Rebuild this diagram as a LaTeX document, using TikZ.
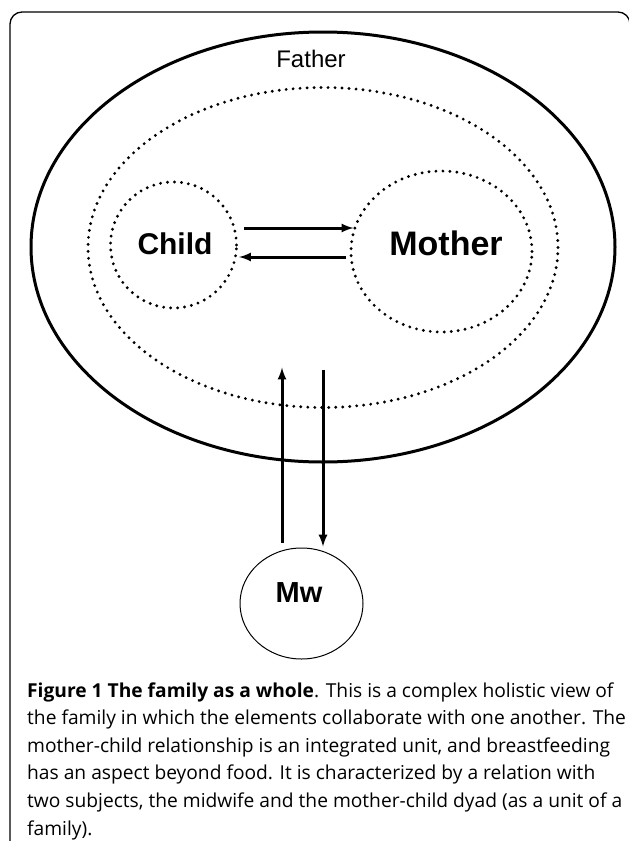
\documentclass[tikz,border=0pt]{standalone}
\usepackage{fontspec}
\setmainfont{Liberation Sans}
\newfontfamily\capfont{Open Sans}
\usetikzlibrary{shapes.geometric, arrows}
\tikzstyle{circleline} = [draw=black, line width=3pt]
\tikzstyle{dotline} = [draw=black, line width=3.2pt, line cap=round, dash pattern=on 0pt off 7pt]
\tikzstyle{person} = [font=\bfseries\fontsize{30}{34}\selectfont]
\tikzstyle{arrow} = [line width=3pt,->,>=latex]

\begin{document}
\begin{tikzpicture}[x=1pt, y=-1pt]
    \useasboundingbox (0,0) rectangle (629,841);
    \draw [line width=1.3pt, rounded corners=12pt] (10,860) -- (10,12) -- (630,12) -- (630,860);

    % the family, the dyad and its two members
    \node (family) [ellipse, circleline, minimum width=584, minimum height=430] at (323,247) {};
    \node (dyad) [ellipse, dotline, minimum width=470, minimum height=320] at (323,247.5) {};
    \node (child) [circle, dotline, minimum size=126] at (173.5,245) {};
    \node (mother) [ellipse, dotline, minimum width=181, minimum height=161] at (441.5,251.5) {};
    \node (mw) [ellipse, draw=black, line width=1pt, minimum width=123, minimum height=111] at (301.5,603.5) {};

    \node (fathertext) [font=\fontsize{24}{28}\selectfont] at (311,59) {Father};
    \node (childtext) [person] at ([shift={(1.5,-1)}]child.center) {Child};
    \node (mothertext) [person, font=\bfseries\fontsize{34}{38}\selectfont] at ([shift={(4.5,-8.5)}]mother.center) {Mother};
    \node (mwtext) [person, font=\bfseries\fontsize{29}{33}\selectfont] at ([shift={(-2.5,-10.5)}]mw.center) {Mw};

    \draw [arrow] ([shift={(6,-17)}]child.east) -- ([shift={(4,-23.5)}]mother.west);
    \draw [arrow] ([shift={(-3,5.5)}]mother.west) -- ([shift={(1,12)}]child.east);
    \draw [arrow] ([shift={(-19.5,-5)}]mw.north) -- ([shift={(-41,-41.5)}]dyad.south);
    \draw [arrow] ([shift={(0,-39.5)}]dyad.south) -- ([shift={(21.5,-1)}]mw.north);

    % base of the caption is its last line
    \node (caption) [anchor=base west, inner sep=0pt, align=left,
        font=\capfont\fontsize{19.2}{27.6}\selectfont] at (27,835)
        {\textbf{Figure 1 The family as a whole}. This is a complex holistic view of\\
        the family in which the elements collaborate with one another. The\\
        mother-child relationship is an integrated unit, and breastfeeding\\
        has an aspect beyond food. It is characterized by a relation with\\
        two subjects, the midwife and the mother-child dyad (as a unit of a\\
        family).};
\end{tikzpicture}
\end{document}
